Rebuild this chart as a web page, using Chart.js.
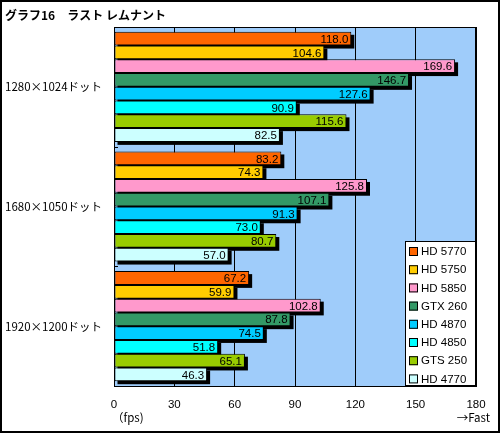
<!DOCTYPE html>
<html>
<head>
<meta charset="utf-8">
<script src="https://cdn.jsdelivr.net/npm/chart.js@4/dist/chart.umd.min.js"></script>
<style>
  html, body { margin: 0; padding: 0; background: #fff; }
  canvas { display: block; }
</style>
</head>
<body>
<canvas id="chart" width="500" height="433"></canvas>
<script>
// chart data
const titleText = 'グラフ16　ラスト レムナント';
const resolutions = ['1280×1024ドット', '1680×1050ドット', '1920×1200ドット'];
const cards = ['HD 5770', 'HD 5750', 'HD 5850', 'GTX 260', 'HD 4870', 'HD 4850', 'GTS 250', 'HD 4770'];
const cardColors = ['#FF6600', '#FFCC00', '#FF99CC', '#339966', '#00CCFF', '#00FFFF', '#99CC00', '#CCFFFF'];
const hd5770 = [118.0, 83.2, 67.2];
const hd5750 = [104.6, 74.3, 59.9];
const hd5850 = [169.6, 125.8, 102.8];
const gtx260 = [146.7, 107.1, 87.8];
const hd4870 = [127.6, 91.3, 74.5];
const hd4850 = [90.9, 73.0, 51.8];
const gts250 = [115.6, 80.7, 65.1];
const hd4770 = [82.5, 57.0, 46.3];
const xTicks = [0, 30, 60, 90, 120, 150, 180];
const unitLabel = '（fps)';
const fastLabel = '→Fast';

const seriesValues = [hd5770, hd5750, hd5850, gtx260, hd4870, hd4850, gts250, hd4770];

const labelFont = '11.5px "Liberation Sans", Arial, sans-serif';
const noteFont = '11.5px "Noto Sans CJK JP", sans-serif';

// black drop shadow behind every bar
const barShadow = {
    id: 'barShadow',
    beforeDatasetsDraw(chart) {
        const ctx = chart.ctx;
        ctx.save();
        ctx.fillStyle = '#000';
        chart.data.datasets.forEach((ds, i) => {
            chart.getDatasetMeta(i).data.forEach(bar => {
                const h = bar.height;
                ctx.fillRect(bar.base + 3, bar.y - h / 2 + 3, bar.x - bar.base, h);
            });
        });
        ctx.restore();
    }
};

// value text at the end of each bar
const valueLabels = {
    id: 'valueLabels',
    afterDatasetsDraw(chart) {
        const ctx = chart.ctx;
        ctx.save();
        ctx.font = labelFont;
        ctx.fillStyle = '#000';
        ctx.textAlign = 'right';
        ctx.textBaseline = 'middle';
        chart.data.datasets.forEach((ds, i) => {
            chart.getDatasetMeta(i).data.forEach((bar, j) => {
                ctx.fillText(ds.data[j].toFixed(1), bar.x - 3, bar.y + 1);
            });
        });
        ctx.restore();
    }
};

// frame, title, axis notes and the boxed legend
const decorations = {
    id: 'decorations',
    beforeDraw(chart) {
        const a = chart.chartArea;
        const ctx = chart.ctx;
        ctx.save();
        ctx.fillStyle = '#9FCCFA';
        ctx.fillRect(a.left, a.top, a.right - a.left, a.bottom - a.top);
        ctx.restore();
    },
    afterDraw(chart) {
        const ctx = chart.ctx;
        const a = chart.chartArea;
        const xs = chart.scales.x;
        const ys = chart.scales.y;
        ctx.save();
        // plot frame
        ctx.strokeStyle = '#000';
        ctx.lineWidth = 1;
        ctx.strokeRect(a.left + 0.5, a.top + 0.5, a.right - a.left - 1, a.bottom - a.top);
        // small inward ticks between resolution groups
        ctx.beginPath();
        for (let i = 1; i < resolutions.length; i++) {
            const ty = Math.round((ys.getPixelForValue(i - 1) + ys.getPixelForValue(i)) / 2) + 0.5;
            ctx.moveTo(a.left, ty);
            ctx.lineTo(a.left + 4, ty);
        }
        ctx.stroke();
        // outer frame
        ctx.lineWidth = 2;
        ctx.strokeRect(1, 1, chart.width - 2, chart.height - 2);

        // title
        ctx.fillStyle = '#000';
        ctx.font = 'bold 12px "Noto Sans CJK JP", sans-serif';
        ctx.textBaseline = 'middle';
        ctx.textAlign = 'left';
        ctx.fillText(titleText, 5, 15);

        // axis notes
        ctx.font = noteFont;
        ctx.fillText(unitLabel, xs.getPixelForValue(0) - 2, 418);
        ctx.textAlign = 'right';
        ctx.fillText(fastLabel, xs.getPixelForValue(180) + 14, 418);

        // legend box
        const w = 70, h = 144;
        const bx = a.right - w - 1, by = a.bottom - h - 1;
        ctx.font = labelFont;
        ctx.fillStyle = '#fff';
        ctx.fillRect(bx, by, w, h);
        ctx.lineWidth = 1;
        ctx.strokeStyle = '#000';
        ctx.strokeRect(bx + 0.5, by + 0.5, w, h);
        ctx.textAlign = 'left';
        cards.forEach((name, i) => {
            const cy = by + 10 + i * 18.2;
            ctx.fillStyle = cardColors[i];
            ctx.fillRect(bx + 4, cy - 4, 9, 9);
            ctx.strokeRect(bx + 4.5, cy - 3.5, 8, 8);
            ctx.fillStyle = '#000';
            ctx.fillText(name, bx + 16, cy + 1);
        });
        ctx.restore();
    }
};

new Chart(document.getElementById('chart'), {
    type: 'bar',
    data: {
        labels: resolutions,
        datasets: cards.map((name, i) => ({
            label: name,
            data: seriesValues[i],
            backgroundColor: cardColors[i],
            borderColor: '#000',
            borderWidth: 1,
            borderSkipped: false,
            barPercentage: 1.0,
            categoryPercentage: 0.92
        }))
    },
    options: {
        indexAxis: 'y',
        responsive: false,
        animation: false,
        devicePixelRatio: 1,
        layout: { padding: { top: 27, right: 24, left: 5, bottom: 0 } },
        plugins: {
            legend: { display: false },
            tooltip: { enabled: false },
            title: { display: false }
        },
        scales: {
            x: {
                min: 0,
                max: 180,
                afterBuildTicks: scale => { scale.ticks = xTicks.map(v => ({ value: v })); },
                afterFit: scale => { scale.height = 47; },
                grid: { color: '#000', drawTicks: false },
                border: { color: '#000' },
                ticks: {
                    color: '#000',
                    padding: 12,
                    font: { family: '"Liberation Sans", Arial, sans-serif', size: 11.5 }
                }
            },
            y: {
                afterFit: scale => { scale.width = 109; },
                grid: { display: false },
                border: { color: '#000' },
                ticks: {
                    color: '#000',
                    crossAlign: 'far',
                    font: { family: '"Noto Sans CJK JP", sans-serif', size: 11.5 }
                }
            }
        }
    },
    plugins: [barShadow, valueLabels, decorations]
});
</script>
</body>
</html>
